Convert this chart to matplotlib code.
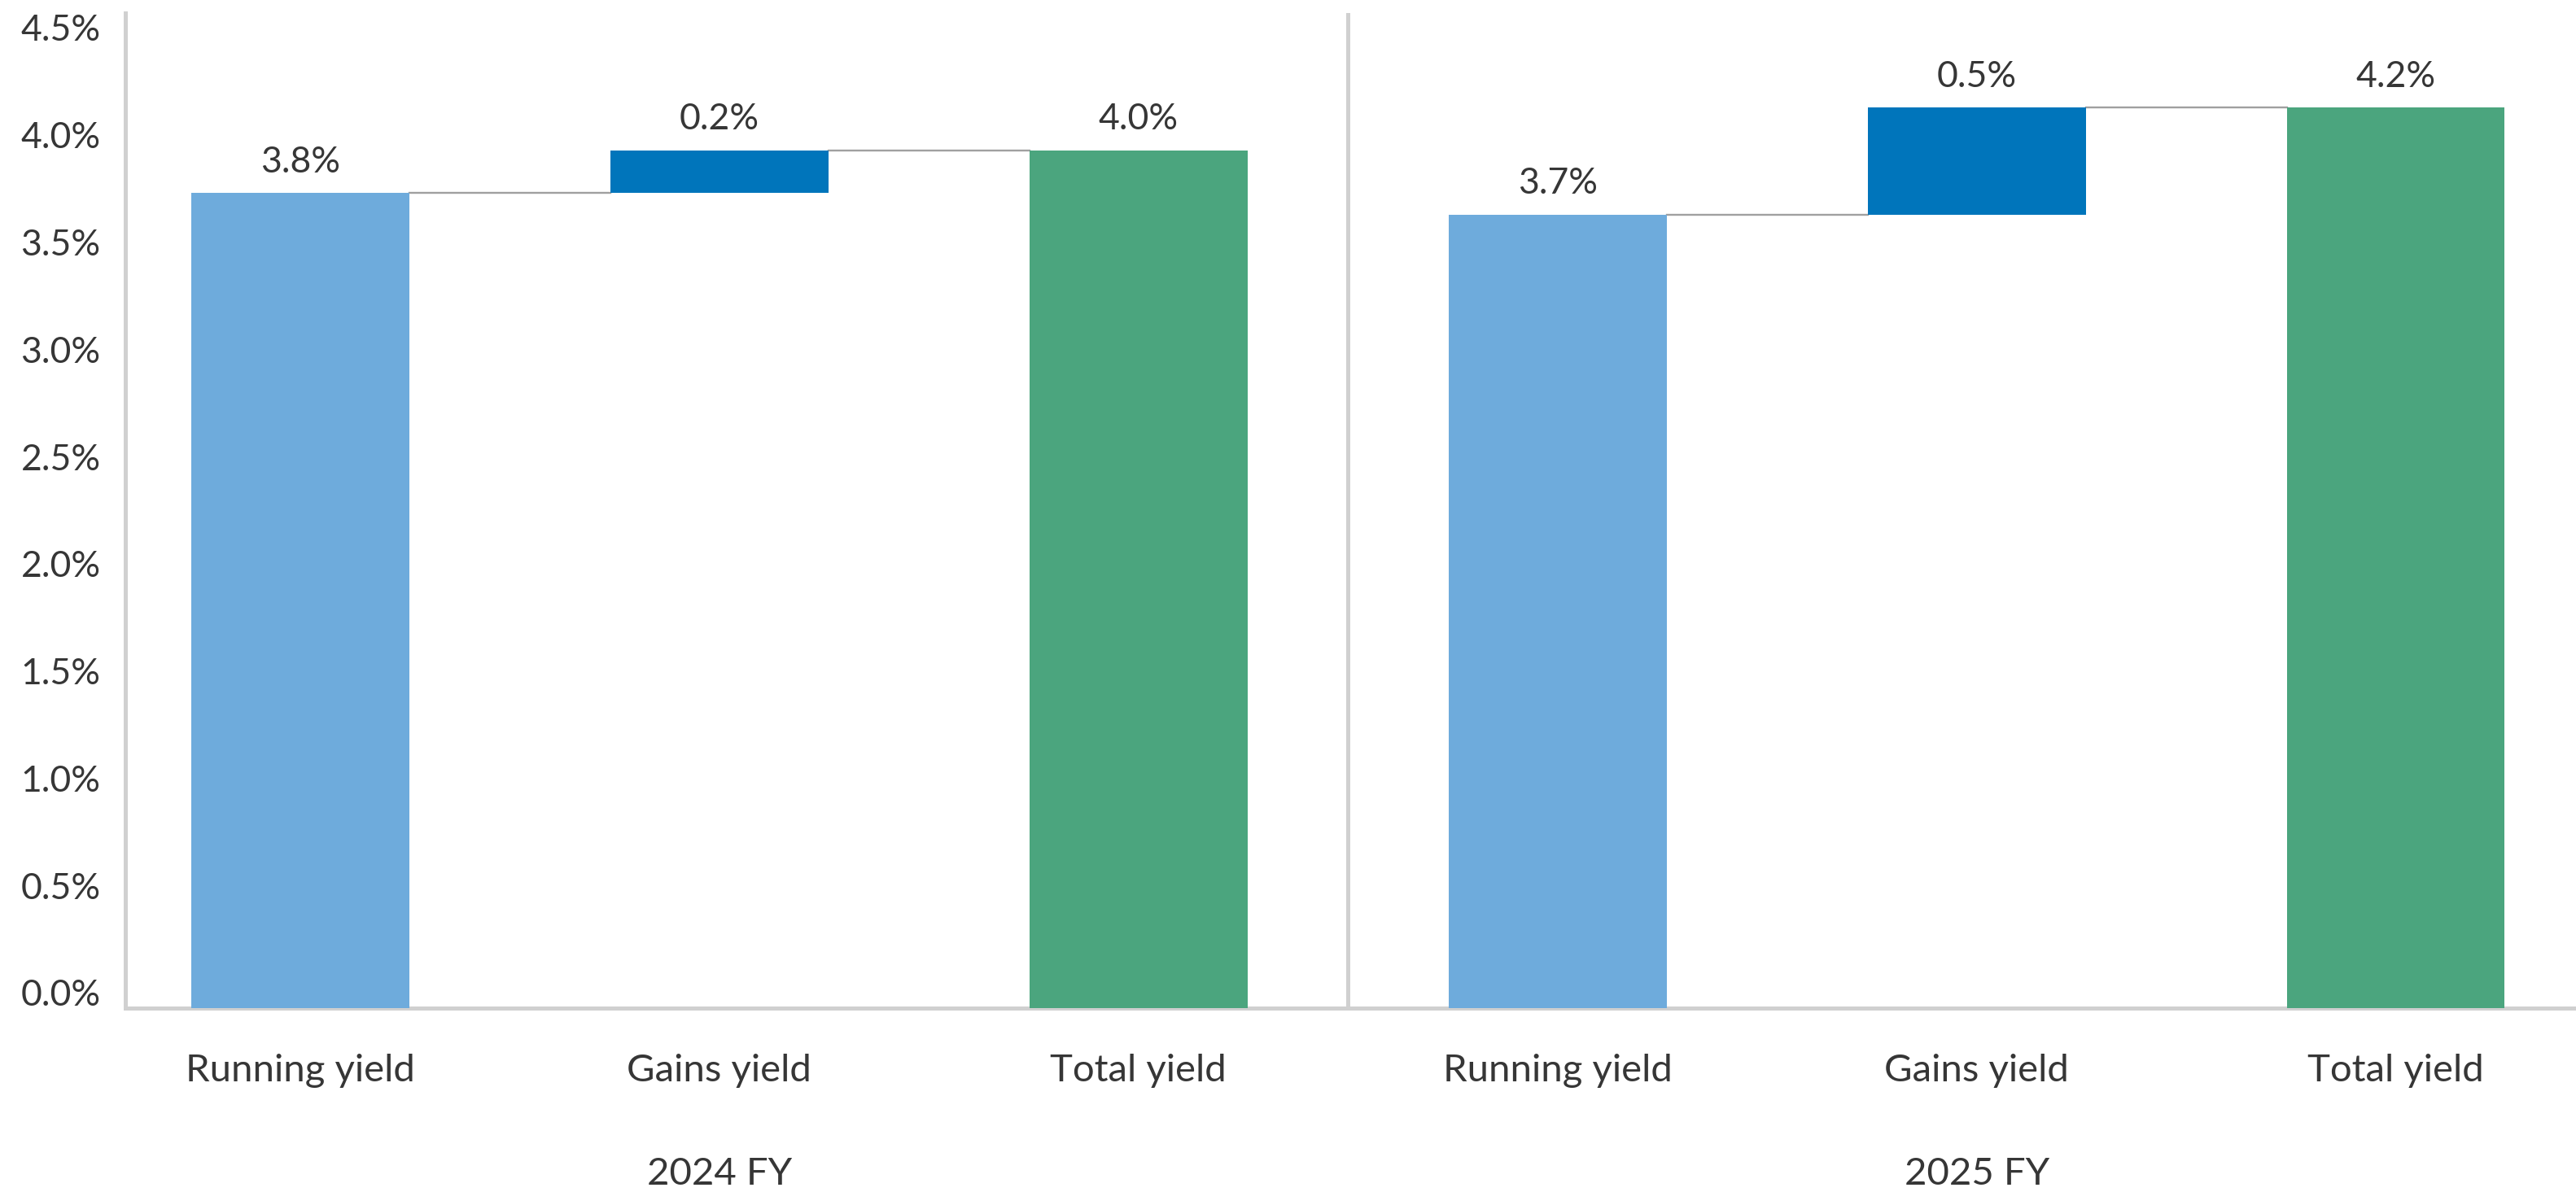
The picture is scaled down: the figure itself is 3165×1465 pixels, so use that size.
import numpy as np
import matplotlib
matplotlib.use("Agg")
import matplotlib.pyplot as plt
from matplotlib.transforms import ScaledTranslation

plt.rcParams['font.family'] = ['Lato', 'DejaVu Sans']

categories = ["Running yield", "Gains yield", "Total yield"] * 2
periods = ["2024 FY", "2025 FY"]
running = [3.8, 3.7]
gains = [0.2, 0.5]
total = [4.0, 4.2]

c_run = '#6eabdc'
c_gain = '#0075bb'
c_total = '#4ba57e'
c_axis = '#d0d0d0'
c_link = '#a0a0a0'
c_text = '#363636'
fs = 32
fs_cat = 34

fig = plt.figure(figsize=(31.65, 14.65), dpi=100)
ax = fig.add_axes([0.0487, 0.1543, 0.9513, 0.8348])

w = 0.52
for k in range(2):
    x0 = 3 * k
    bottoms = [0, running[k], 0]
    heights = [running[k], gains[k], total[k]]
    cols = [c_run, c_gain, c_total]
    for j in range(3):
        ax.bar(x0 + j, heights[j], bottom=bottoms[j], width=w, color=cols[j], zorder=3)
        top = bottoms[j] + heights[j]
        ax.annotate(f"{heights[j]:.1f}%", (x0 + j, top), xytext=(0, 12.5),
                    textcoords='offset points', ha='center', va='bottom',
                    fontsize=fs, color=c_text)
    # connector lines between the steps
    ax.plot([x0 + w / 2, x0 + 1 - w / 2], [running[k], running[k]], color=c_link, lw=1.7, zorder=2)
    ax.plot([x0 + 1 + w / 2, x0 + 2 - w / 2], [total[k], total[k]], color=c_link, lw=1.7, zorder=2)
    ax.text(x0 + 1, -0.1668, periods[k], transform=ax.get_xaxis_transform(),
            ha='center', va='center', fontsize=fs_cat, color=c_text)

ax.axvline(2.5, color=c_axis, lw=3.6, zorder=1)

ax.set_xlim(-0.417, 5.43)
ax.set_ylim(0, 4.64)
ticks = np.arange(0, 4.51, 0.5)
ax.set_yticks(ticks)
ax.set_yticklabels([f"{v:.1f}%" for v in ticks])
ax.set_xticks(range(6))
ax.set_xticklabels(categories)
ax.tick_params(axis='y', length=0, pad=22, labelsize=fs, labelcolor=c_text)
ax.tick_params(axis='x', length=0, pad=40, labelsize=fs_cat, labelcolor=c_text)
off = ScaledTranslation(0, 0.19, fig.dpi_scale_trans)
for lab in ax.get_yticklabels():
    lab.set_transform(lab.get_transform() + off)

for s in ['top', 'right']:
    ax.spines[s].set_visible(False)
for s in ['left', 'bottom']:
    ax.spines[s].set_color(c_axis)
    ax.spines[s].set_linewidth(3.6)

fig.savefig("out.png", dpi=100)
